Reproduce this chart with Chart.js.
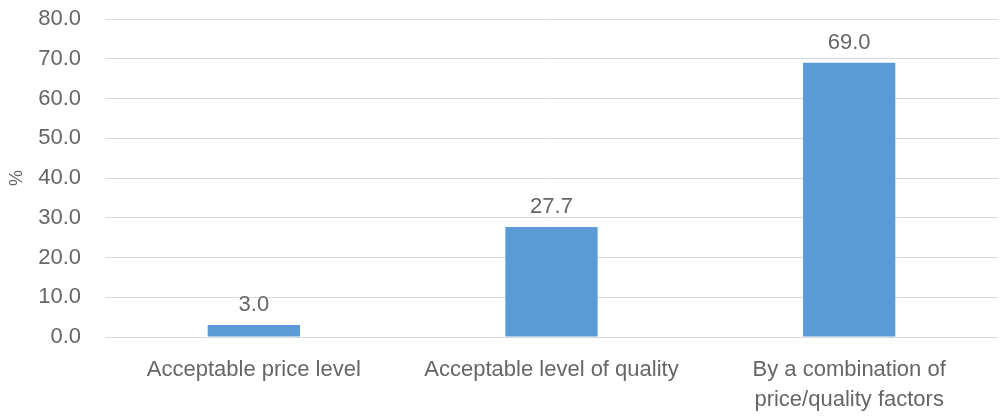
<!DOCTYPE html>
<html>
<head>
<meta charset="utf-8">
<script src="https://cdn.jsdelivr.net/npm/chart.js@4/dist/chart.umd.min.js"></script>
<style>
  html, body { margin: 0; padding: 0; background: #fff; }
  #wrap { width: 1000px; height: 419px; position: relative; }
</style>
</head>
<body>
<div id="wrap"><canvas id="c"></canvas></div>
<script>
const categories = [
  "Acceptable price level",
  "Acceptable level of quality",
  ["By a combination of", "price/quality factors"]
];
const shares = [3.0, 27.7, 69.0];
const yMin = 0, yMax = 80, yStep = 10;

const FONT = "'Liberation Sans', Arial, sans-serif";
const TEXT = '#666666';
const SIZE = 22;

// Value labels above each bar
const valueLabels = {
  id: 'valueLabels',
  afterDatasetsDraw(chart) {
    const ctx = chart.ctx;
    const meta = chart.getDatasetMeta(0);
    ctx.save();
    ctx.font = SIZE + 'px ' + FONT;
    ctx.fillStyle = TEXT;
    ctx.textAlign = 'center';
    ctx.textBaseline = 'alphabetic';
    meta.data.forEach((bar, i) => {
      const v = chart.data.datasets[0].data[i];
      ctx.fillText(v.toFixed(1), bar.x, bar.y - 14);
    });
    ctx.restore();
  }
};

new Chart(document.getElementById('c'), {
  type: 'bar',
  data: {
    labels: categories,
    datasets: [{
      data: shares,
      backgroundColor: '#5B9BD5',
      barPercentage: 0.31,
      categoryPercentage: 1.0
    }]
  },
  options: {
    responsive: true,
    maintainAspectRatio: false,
    animation: false,
    layout: { padding: { top: 19, right: 2, bottom: 0, left: 0 } },
    plugins: {
      legend: { display: false },
      tooltip: { enabled: false }
    },
    scales: {
      x: {
        grid: { display: false, drawTicks: false },
        border: { display: false },
        ticks: {
          color: TEXT,
          font: { family: FONT, size: SIZE, lineHeight: 30 / SIZE },
          padding: 18,
          maxRotation: 0,
          autoSkip: false
        },
        afterFit(scale) { scale.height = 82; }
      },
      y: {
        min: yMin,
        max: yMax,
        grid: { color: '#d9d9d9', lineWidth: 1, drawTicks: false },
        border: { display: false },
        ticks: {
          stepSize: yStep,
          color: TEXT,
          font: { family: FONT, size: SIZE },
          padding: 24,
          callback: v => Number(v).toFixed(1)
        },
        title: {
          display: true,
          text: '%',
          color: TEXT,
          font: { family: FONT, size: 18 },
          padding: { top: 6, bottom: 0 }
        },
        afterFit(scale) {
          scale.width = 105;
          // tick padding is horizontal only here; keep the plot edges from the layout
          scale.paddingTop = 0;
          scale.paddingBottom = 0;
        }
      }
    }
  },
  plugins: [valueLabels]
});
</script>
</body>
</html>
